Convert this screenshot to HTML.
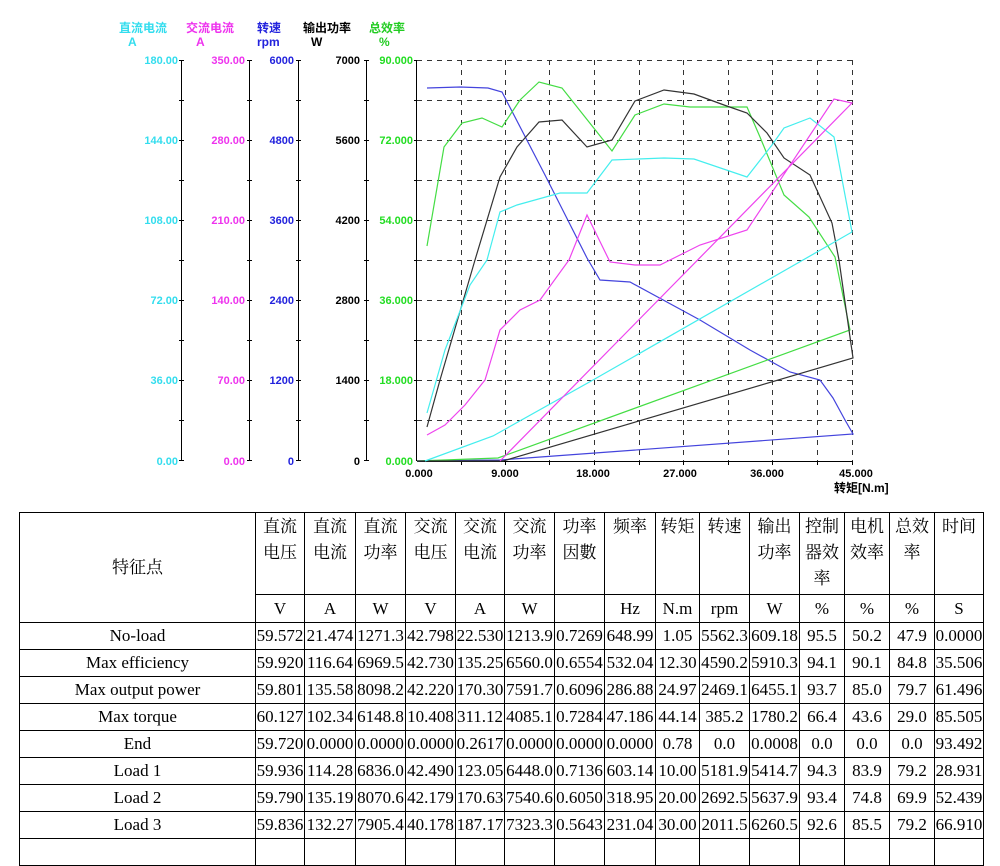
<!DOCTYPE html>
<html><head><meta charset="utf-8"><style>
body{margin:0;background:#fff;width:1000px;height:842px;overflow:hidden;position:relative;font-family:"Liberation Sans","Noto Sans CJK SC",sans-serif}
svg{position:absolute;left:0;top:0}
table{position:absolute;left:19px;top:512px;border-collapse:collapse;table-layout:fixed;font-family:"Liberation Serif","Noto Serif CJK SC",serif;font-size:17px;color:#000}
td{border:1px solid #000;padding:0;text-align:center;white-space:nowrap;overflow:hidden;height:26px;line-height:26px}
tr.h1 td{height:80px;vertical-align:top;line-height:26px;padding-top:1px;white-space:normal}
tr.h1 td.f{vertical-align:middle}
tr.h2 td{height:27px}
</style></head><body>
<svg width="1000" height="512" viewBox="0 0 1000 512" font-family="Liberation Sans, Noto Sans CJK SC, sans-serif" font-weight="bold" font-size="11">
<g font-size="12">
<text x="119" y="32" fill="#33ddee">直流电流</text><text x="128" y="46" fill="#33ddee">A</text>
<text x="186" y="32" fill="#ee33ee">交流电流</text><text x="196" y="46" fill="#ee33ee">A</text>
<text x="257" y="32" fill="#2222dd">转速</text><text x="257" y="46" fill="#2222dd">rpm</text>
<text x="303" y="32" fill="#000">输出功率</text><text x="311" y="46" fill="#000">W</text>
<text x="369" y="32" fill="#22cc22">总效率</text><text x="379" y="46" fill="#22cc22">%</text>
</g>
<g stroke="#000" stroke-width="1">
<line x1="181.5" y1="60" x2="181.5" y2="461"/><line x1="249.5" y1="60" x2="249.5" y2="461"/><line x1="298.5" y1="60" x2="298.5" y2="461"/><line x1="366.5" y1="60" x2="366.5" y2="461"/><line x1="416.5" y1="60" x2="416.5" y2="461"/>
<line x1="417" y1="461.5" x2="853" y2="461.5"/>
</g>
<g stroke="#000" stroke-width="1">
<path d="M179 60.5h5M179 100.5h5M179 140.5h5M179 180.5h5M179 220.5h5M179 260.5h5M179 300.5h5M179 340.5h5M179 380.5h5M179 420.5h5M179 460.5h5"/>
<path d="M247 60.5h5M247 100.5h5M247 140.5h5M247 180.5h5M247 220.5h5M247 260.5h5M247 300.5h5M247 340.5h5M247 380.5h5M247 420.5h5M247 460.5h5"/>
<path d="M296 60.5h5M296 100.5h5M296 140.5h5M296 180.5h5M296 220.5h5M296 260.5h5M296 300.5h5M296 340.5h5M296 380.5h5M296 420.5h5M296 460.5h5"/>
<path d="M364 60.5h5M364 100.5h5M364 140.5h5M364 180.5h5M364 220.5h5M364 260.5h5M364 300.5h5M364 340.5h5M364 380.5h5M364 420.5h5M364 460.5h5"/>
<path d="M414 60.5h3M414 100.5h3M414 140.5h3M414 180.5h3M414 220.5h3M414 260.5h3M414 300.5h3M414 340.5h3M414 380.5h3M414 420.5h3"/>
<path d="M461.5 461v4M505.5 461v4M549.5 461v4M594.5 461v4M639.5 461v4M683.5 461v4M728.5 461v4M772.5 461v4M817.5 461v4M852.5 461v4"/>
</g>
<g stroke="#333" stroke-width="1" stroke-dasharray="5,5" fill="none">
<path d="M417 60.5H853M417 100.5H853M417 140.5H853M417 180.5H853M417 220.5H853M417 260.5H853M417 300.5H853M417 340.5H853M417 380.5H853M417 420.5H853"/>
<path d="M461.5 60V461M505.5 60V461M549.5 60V461M594.5 60V461M639.5 60V461M683.5 60V461M728.5 60V461M772.5 60V461M817.5 60V461M852.5 60V461"/>
</g>
<g text-anchor="end">
<text x="178" y="64" fill="#33ddee">180.00</text><text x="178" y="144" fill="#33ddee">144.00</text><text x="178" y="224" fill="#33ddee">108.00</text><text x="178" y="304" fill="#33ddee">72.00</text><text x="178" y="384" fill="#33ddee">36.00</text><text x="178" y="465" fill="#33ddee">0.00</text>
<text x="245" y="64" fill="#ee33ee">350.00</text><text x="245" y="144" fill="#ee33ee">280.00</text><text x="245" y="224" fill="#ee33ee">210.00</text><text x="245" y="304" fill="#ee33ee">140.00</text><text x="245" y="384" fill="#ee33ee">70.00</text><text x="245" y="465" fill="#ee33ee">0.00</text>
<text x="294" y="64" fill="#2222dd">6000</text><text x="294" y="144" fill="#2222dd">4800</text><text x="294" y="224" fill="#2222dd">3600</text><text x="294" y="304" fill="#2222dd">2400</text><text x="294" y="384" fill="#2222dd">1200</text><text x="294" y="465" fill="#2222dd">0</text>
<text x="360" y="64" fill="#000">7000</text><text x="360" y="144" fill="#000">5600</text><text x="360" y="224" fill="#000">4200</text><text x="360" y="304" fill="#000">2800</text><text x="360" y="384" fill="#000">1400</text><text x="360" y="465" fill="#000">0</text>
<text x="413" y="64" fill="#22dd22">90.000</text><text x="413" y="144" fill="#22dd22">72.000</text><text x="413" y="224" fill="#22dd22">54.000</text><text x="413" y="304" fill="#22dd22">36.000</text><text x="413" y="384" fill="#22dd22">18.000</text><text x="413" y="465" fill="#22dd22">0.000</text>
</g>
<g text-anchor="middle" fill="#000">
<text x="419" y="477">0.000</text><text x="505" y="477">9.000</text><text x="593" y="477">18.000</text><text x="680" y="477">27.000</text><text x="767" y="477">36.000</text><text x="856" y="477">45.000</text>
</g>
<text x="834" y="492" fill="#000" font-size="12">转矩[N.m]</text>
<g fill="none" stroke-width="1.2">
<polyline stroke="#4444dd" points="427,88 460,87 488,88 502,92 545,175 587,258 600,280 630,282 700,320 750,350 790,372 820,380 833,398 845,420 853,434 500,460 417,461"/>
<polyline stroke="#44dd44" points="427,246 444,147 462,123 482,118 502,127 520,100 539,82 562,88 612,151 635,115 664,104 690,107 747,107 760,137 784,195 809,217 835,257 850,330 498,458 417,461"/>
<polyline stroke="#333" points="427,427 440,380 475,260 500,177 517,147 539,122 562,120 587,147 612,140 635,101 664,90 694,94 724,105 747,113 767,133 784,158 810,175 832,223 839,260 853,358 503,461 417,461"/>
<polyline stroke="#44eeee" points="427,413 445,350 470,285 487,260 500,212 517,205 560,193 587,193 612,160 664,158 694,159 747,177 772,145 784,128 810,118 834,137 852,232 593,380 493,436 425,461"/>
<polyline stroke="#ee44ee" points="427,435 445,425 465,405 485,380 500,330 520,310 540,300 569,260 587,215 610,262 635,265 660,265 680,255 700,245 747,230 834,99 852,103 500,461"/>
</g>
</svg>
<table>
<colgroup><col style="width:236px"><col style="width:49px"><col style="width:51px"><col style="width:50px"><col style="width:50px"><col style="width:49px"><col style="width:50px"><col style="width:50px"><col style="width:51px"><col style="width:44px"><col style="width:50px"><col style="width:50px"><col style="width:45px"><col style="width:45px"><col style="width:45px"><col style="width:49px"></colgroup>
<tr class="h1"><td class="f" rowspan="2">特征点</td><td>直流<br>电压</td><td>直流<br>电流</td><td>直流<br>功率</td><td>交流<br>电压</td><td>交流<br>电流</td><td>交流<br>功率</td><td>功率<br>因數</td><td>频率</td><td>转矩</td><td>转速</td><td>输出<br>功率</td><td>控制<br>器效<br>率</td><td>电机<br>效率</td><td>总效<br>率</td><td>时间</td></tr>
<tr class="h2"><td>V</td><td>A</td><td>W</td><td>V</td><td>A</td><td>W</td><td></td><td>Hz</td><td>N.m</td><td>rpm</td><td>W</td><td>%</td><td>%</td><td>%</td><td>S</td></tr>
<tr><td>No-load</td><td>59.572</td><td>21.474</td><td>1271.3</td><td>42.798</td><td>22.530</td><td>1213.9</td><td>0.7269</td><td>648.99</td><td>1.05</td><td>5562.3</td><td>609.18</td><td>95.5</td><td>50.2</td><td>47.9</td><td>0.0000</td></tr>
<tr><td>Max efficiency</td><td>59.920</td><td>116.64</td><td>6969.5</td><td>42.730</td><td>135.25</td><td>6560.0</td><td>0.6554</td><td>532.04</td><td>12.30</td><td>4590.2</td><td>5910.3</td><td>94.1</td><td>90.1</td><td>84.8</td><td>35.506</td></tr>
<tr><td>Max output power</td><td>59.801</td><td>135.58</td><td>8098.2</td><td>42.220</td><td>170.30</td><td>7591.7</td><td>0.6096</td><td>286.88</td><td>24.97</td><td>2469.1</td><td>6455.1</td><td>93.7</td><td>85.0</td><td>79.7</td><td>61.496</td></tr>
<tr><td>Max torque</td><td>60.127</td><td>102.34</td><td>6148.8</td><td>10.408</td><td>311.12</td><td>4085.1</td><td>0.7284</td><td>47.186</td><td>44.14</td><td>385.2</td><td>1780.2</td><td>66.4</td><td>43.6</td><td>29.0</td><td>85.505</td></tr>
<tr><td>End</td><td>59.720</td><td>0.0000</td><td>0.0000</td><td>0.0000</td><td>0.2617</td><td>0.0000</td><td>0.0000</td><td>0.0000</td><td>0.78</td><td>0.0</td><td>0.0008</td><td>0.0</td><td>0.0</td><td>0.0</td><td>93.492</td></tr>
<tr><td>Load 1</td><td>59.936</td><td>114.28</td><td>6836.0</td><td>42.490</td><td>123.05</td><td>6448.0</td><td>0.7136</td><td>603.14</td><td>10.00</td><td>5181.9</td><td>5414.7</td><td>94.3</td><td>83.9</td><td>79.2</td><td>28.931</td></tr>
<tr><td>Load 2</td><td>59.790</td><td>135.19</td><td>8070.6</td><td>42.179</td><td>170.63</td><td>7540.6</td><td>0.6050</td><td>318.95</td><td>20.00</td><td>2692.5</td><td>5637.9</td><td>93.4</td><td>74.8</td><td>69.9</td><td>52.439</td></tr>
<tr><td>Load 3</td><td>59.836</td><td>132.27</td><td>7905.4</td><td>40.178</td><td>187.17</td><td>7323.3</td><td>0.5643</td><td>231.04</td><td>30.00</td><td>2011.5</td><td>6260.5</td><td>92.6</td><td>85.5</td><td>79.2</td><td>66.910</td></tr>
<tr><td>&nbsp;</td><td></td><td></td><td></td><td></td><td></td><td></td><td></td><td></td><td></td><td></td><td></td><td></td><td></td><td></td><td></td></tr>
</table>
</body></html>
